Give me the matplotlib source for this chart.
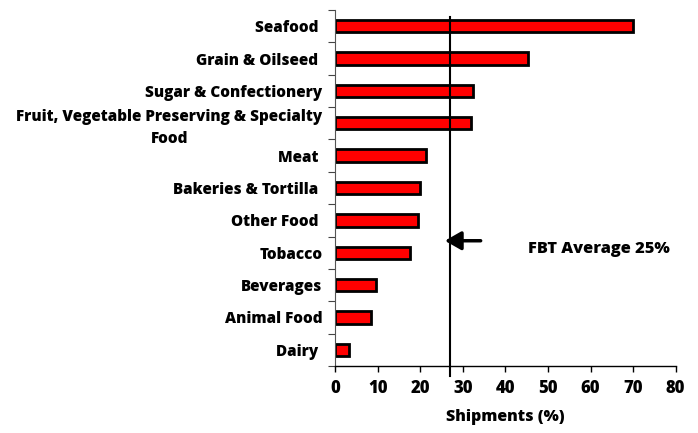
import matplotlib
matplotlib.use("Agg")
import matplotlib.pyplot as plt
import numpy as np
from matplotlib.transforms import blended_transform_factory

categories = ["Seafood ", "Grain & Oilseed ", "Sugar & Confectionery",
              "Fruit, Vegetable Preserving & Specialty\nFood", "Meat ",
              "Bakeries & Tortilla ", "Other Food ", "Tobacco", "Beverages",
              "Animal Food", "Dairy "]
values = [70.0, 45.3, 32.4, 32.0, 21.4, 20.0, 19.6, 17.5, 9.6, 8.5, 3.3]
average_line = 27.0
annotation_text = "FBT Average 25%"
xticks = [0, 10, 20, 30, 40, 50, 60, 70, 80]

plt.rcParams['font.family'] = ['Open Sans', 'DejaVu Sans']
W = 'heavy'
FS = 11

fig = plt.figure(figsize=(6.98, 4.33), dpi=100)
ax = fig.add_axes([0.48, 0.1547, 0.968 - 0.48, 0.977 - 0.1547])

n = len(categories)
ypos = np.arange(n)[::-1]
ax.barh(ypos, values, height=0.38, color='#FF0000', edgecolor='black', linewidth=2.0, zorder=2)

ax.set_xlim(0, 80)
ax.set_ylim(-0.5, n - 0.5)
ax.set_xticks(xticks)
ax.set_xticklabels([str(t) for t in xticks], fontsize=12, fontweight=W)
ax.tick_params(axis='x', direction='out', length=4, width=1, pad=6)

ax.set_yticks(ypos)
ax.set_yticklabels(categories, fontsize=FS, fontweight=W, linespacing=1.45, ha='right', multialignment='center')
ax.tick_params(axis='y', which='major', length=0, pad=9)
ax.set_yticks(np.arange(-0.5, n, 1.0), minor=True)
ax.tick_params(axis='y', which='minor', direction='out', length=5, width=0.8, color='#444444')

for s in ['top', 'right']:
    ax.spines[s].set_visible(False)
ax.spines['left'].set_linewidth(0.8)
ax.spines['left'].set_color('#555555')
ax.spines['bottom'].set_linewidth(1.0)

ax.set_xlabel("Shipments (%)", fontsize=11.5, fontweight=W, labelpad=9)

trans = blended_transform_factory(ax.transData, ax.transAxes)
ax.plot([average_line, average_line], [-0.027, 0.98], transform=trans, color='black', lw=1.5, clip_on=False, zorder=3)

ax.annotate("", xy=(25.8, 3.37), xytext=(34.2, 3.37),
            arrowprops=dict(arrowstyle='-|>,head_length=0.7,head_width=0.4', lw=2.5, color='black',
                            shrinkA=0, shrinkB=0, mutation_scale=14))
ax.text(45.4, 3.1, annotation_text, fontsize=11.8, fontweight=W, ha='left', va='center')

fig.savefig("out.png", dpi=100)
